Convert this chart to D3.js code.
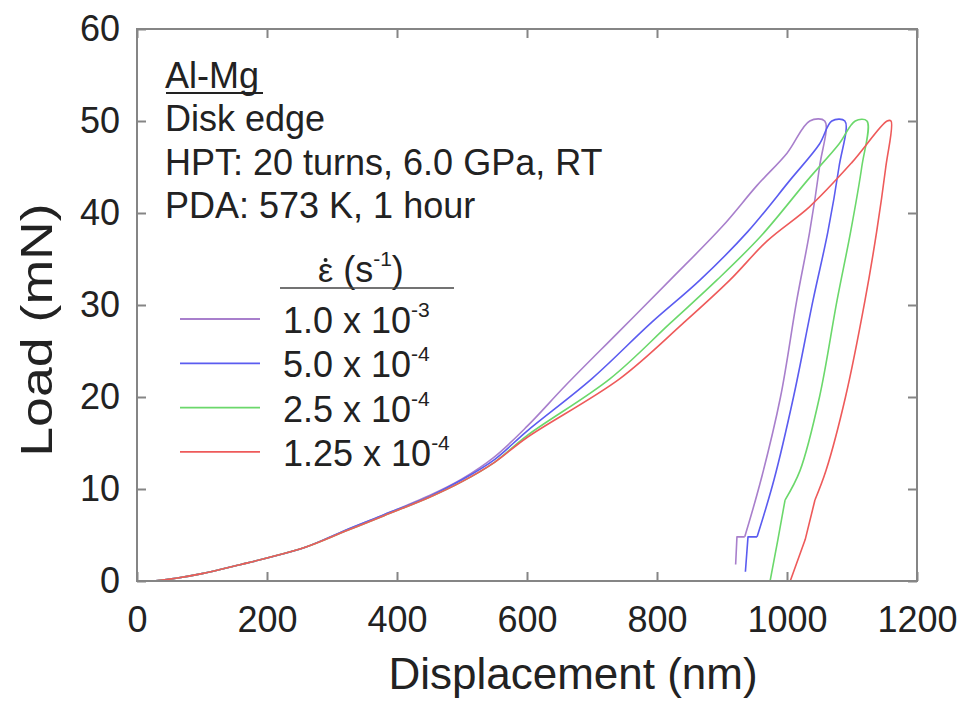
<!DOCTYPE html>
<html>
<head>
<meta charset="utf-8">
<script src="https://cdn.jsdelivr.net/npm/d3@7"></script>
<style>
  body { margin: 0; background: #fff; }
  text { font-family: "Liberation Sans", Arial, sans-serif; fill: #222; }
</style>
</head>
<body>
<svg id="chart" width="958" height="701"></svg>
<script>
// axis ticks
var xTicks = [0, 200, 400, 600, 800, 1000, 1200];
var yTicks = [0, 10, 20, 30, 40, 50, 60];

// legend
var rateMant = ["1.0", "5.0", "2.5", "1.25"];
var rateExp = ["-3", "-4", "-4", "-4"];
var colors = ["#a87fcc", "#5b5cf0", "#6bd86b", "#ee5a5a"];

var notes = ["Disk edge", "HPT: 20 turns, 6.0 GPa, RT", "PDA: 573 K, 1 hour"];

// displacement (nm) / load (mN), loading + unloading
var purpleX = [25, 60, 100, 160, 200, 260, 320, 380, 450, 500, 550, 600, 660, 740, 820, 900, 954, 1000, 1035, 1058, 1050, 1035, 1015, 990, 960, 935, 923, 921];
var purpleY = [0, 0.3, 0.8, 1.8, 2.5, 3.7, 5.5, 7.2, 9.3, 11.1, 13.5, 16.8, 21.3, 27, 32.7, 38.5, 43, 46.5, 50, 50, 45, 38, 30.5, 20, 11, 4.8, 4.8, 1.8];

var blueX = [25, 60, 100, 160, 200, 260, 320, 380, 450, 500, 550, 600, 700, 790, 866, 940, 1005, 1050, 1069, 1089, 1080, 1063, 1040, 1010, 980, 954, 940, 936];
var blueY = [0, 0.3, 0.8, 1.8, 2.5, 3.7, 5.5, 7.2, 9.2, 11, 13.2, 16.3, 22, 28, 32.7, 38, 43.6, 47.5, 50, 50, 45, 38, 30.5, 20, 11, 4.8, 4.8, 1];

var greenX = [25, 60, 100, 160, 200, 260, 320, 380, 450, 500, 550, 600, 728, 820, 892, 960, 1032, 1080, 1105, 1123, 1115, 1098, 1077, 1050, 1020, 997, 986, 974];
var greenY = [0, 0.3, 0.8, 1.8, 2.5, 3.7, 5.4, 7.1, 9.1, 10.8, 12.9, 15.8, 22, 28, 32.7, 37.5, 43.6, 47.5, 50, 50, 45, 38, 30.5, 20, 12, 8.8, 4.5, 0];

var redX = [25, 60, 100, 160, 200, 260, 320, 380, 450, 500, 550, 600, 743, 840, 912, 970, 1035, 1100, 1154, 1160, 1152, 1138, 1120, 1090, 1060, 1043, 1028, 1005];
var redY = [0, 0.3, 0.8, 1.8, 2.5, 3.7, 5.4, 7.1, 9.1, 10.8, 12.9, 15.6, 22, 28, 32.7, 37, 40.7, 45.5, 50, 50, 45, 38, 30.5, 20, 12, 8.8, 4.5, 0];

var seriesX = [purpleX, blueX, greenX, redX];
var seriesY = [purpleY, blueY, greenY, redY];
var tailStart = 25; // last few points (the small step near the bottom) drawn straight

var margin = {top: 29, right: 41, bottom: 120, left: 137};
var svg = d3.select("#chart");
var width = 958 - margin.left - margin.right,
    height = 701 - margin.top - margin.bottom;

var g = svg.append("g")
    .attr("transform", "translate(" + margin.left + "," + margin.top + ")");

var x = d3.scaleLinear().domain([0, 1200]).range([0, width]);
var y = d3.scaleLinear().domain([0, 60]).range([height, 0]);

var axisColor = "#858585";

// clip curves to plot box
g.append("clipPath").attr("id", "clip")
  .append("rect").attr("width", width).attr("height", height);

var smooth = d3.line()
    .curve(d3.curveCatmullRom.alpha(0.5))
    .x(function(d) { return x(d[0]); })
    .y(function(d) { return y(d[1]); });
var straight = d3.line()
    .x(function(d) { return x(d[0]); })
    .y(function(d) { return y(d[1]); });

seriesX.forEach(function(xs, i) {
    var pts = xs.map(function(v, j) { return [v, seriesY[i][j]]; });
    [[smooth, pts.slice(0, tailStart + 1)], [straight, pts.slice(tailStart)]].forEach(function(p) {
        g.append("path")
            .datum(p[1])
            .attr("clip-path", "url(#clip)")
            .attr("fill", "none")
            .attr("stroke", colors[i])
            .attr("stroke-width", 1.6)
            .attr("stroke-linejoin", "round")
            .attr("d", p[0]);
    });
});

// axes: ticks inward on all four sides
function styleAxis(sel) {
    sel.select(".domain").remove();
    sel.selectAll(".tick line").attr("stroke", axisColor).attr("stroke-width", 2);
    sel.selectAll(".tick text").style("font-size", "36px").attr("fill", "#222");
}

g.append("g").attr("transform", "translate(0," + height + ")")
    .call(d3.axisBottom(x).tickValues(xTicks).tickFormat(d3.format("d"))
        .tickSizeInner(-9).tickSizeOuter(0).tickPadding(25))
    .call(styleAxis);
g.append("g")
    .call(d3.axisLeft(y).tickValues(yTicks).tickFormat(d3.format("d"))
        .tickSizeInner(-9).tickSizeOuter(0).tickPadding(17))
    .call(styleAxis);
g.append("g")
    .call(d3.axisTop(x).tickValues(xTicks).tickSizeInner(-9).tickSizeOuter(0).tickFormat(""))
    .call(styleAxis);
g.append("g").attr("transform", "translate(" + width + ",0)")
    .call(d3.axisRight(y).tickValues(yTicks).tickSizeInner(-9).tickSizeOuter(0).tickFormat(""))
    .call(styleAxis);

g.append("rect")
    .attr("width", width).attr("height", height)
    .attr("fill", "none").attr("stroke", axisColor).attr("stroke-width", 2);

// axis titles
svg.append("text")
    .attr("x", 573)
    .attr("y", 689)
    .attr("text-anchor", "middle")
    .style("font-size", "44px")
    .text("Displacement (nm)");

svg.append("text")
    .attr("transform", "translate(52,330) rotate(-90) scale(1.22,1)")
    .attr("text-anchor", "middle")
    .style("font-size", "44px")
    .text("Load (mN)");

// annotation block
svg.append("text")
    .attr("x", 165).attr("y", 88)
    .style("font-size", "36px")
    .text("Al-Mg");
svg.append("line")
    .attr("x1", 166).attr("x2", 263)
    .attr("y1", 93).attr("y2", 93)
    .attr("stroke", "#222").attr("stroke-width", 1.8);

notes.forEach(function(t, i) {
    svg.append("text")
        .attr("x", 165).attr("y", 131 + i * 43.5)
        .style("font-size", "36px")
        .text(t);
});

// legend header: strain rate with a dot over epsilon
var eps = svg.append("text")
    .attr("x", 318).attr("y", 282)
    .style("font-size", "34px")
    .text("\u03b5");
var eb = eps.node().getBBox();
svg.append("circle")
    .attr("cx", eb.x + eb.width / 2).attr("cy", 260)
    .attr("r", 2).attr("fill", "#222");
var hdr = svg.append("text")
    .attr("x", eb.x + eb.width + 10).attr("y", 282)
    .style("font-size", "36px");
hdr.append("tspan").text("(s");
hdr.append("tspan").attr("dy", -16).style("font-size", "21px").text("-1");
hdr.append("tspan").attr("dy", 16).text(")");

svg.append("line")
    .attr("x1", 280).attr("x2", 454)
    .attr("y1", 288).attr("y2", 288)
    .attr("stroke", "#444").attr("stroke-width", 1.6);

rateMant.forEach(function(m, i) {
    var ly = 319 + i * 44.3;
    svg.append("line")
        .attr("x1", 180).attr("x2", 260)
        .attr("y1", ly).attr("y2", ly)
        .attr("stroke", colors[i]).attr("stroke-width", 1.8);
    var t = svg.append("text")
        .attr("x", 283).attr("y", ly + 14)
        .style("font-size", "36px");
    t.append("tspan").text(m + " x 10");
    t.append("tspan").attr("dy", -16).style("font-size", "21px").text(rateExp[i]);
});
</script>
</body>
</html>
